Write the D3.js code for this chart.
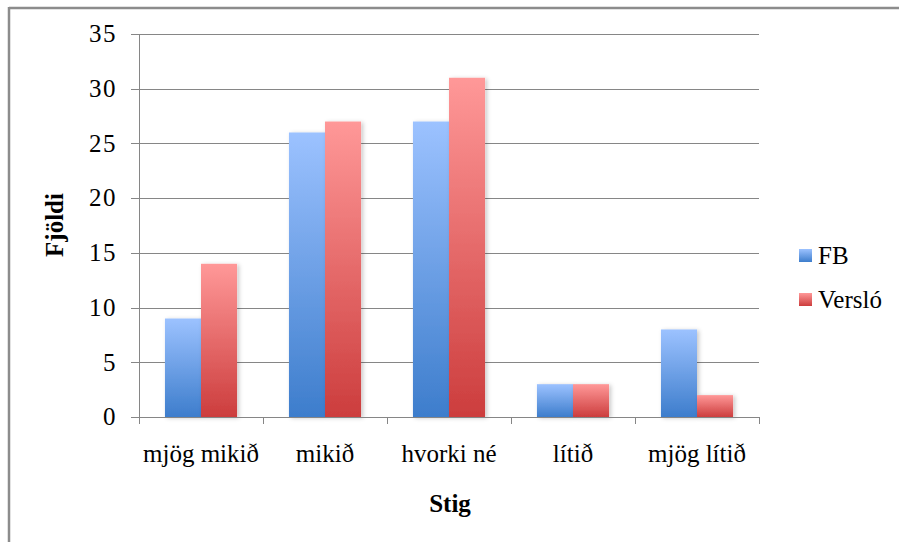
<!DOCTYPE html>
<html><head><meta charset="utf-8">
<script src="https://cdn.jsdelivr.net/npm/d3@7"></script>
<style>body{margin:0;background:#fff}svg{display:block}</style>
</head><body>
<script>
const categories = ["mjög mikið", "mikið", "hvorki né", "lítið", "mjög lítið"];
const seriesNames = ["FB", "Versló"];
const fbValues = [9, 26, 27, 3, 8];
const versloValues = [14, 27, 31, 3, 2];
const yTicks = [0, 5, 10, 15, 20, 25, 30, 35];

const W = 899, H = 542;
const svg = d3.select("body").append("svg").attr("width", W).attr("height", H);
const font = "'Liberation Serif', 'Times New Roman', serif";

const defs = svg.append("defs");
const grads = [["gFB", "#9cc2ff", "#3d7dcc"], ["gV", "#ff9898", "#cc3d3d"]];
grads.forEach(([id, c1, c2]) => {
  const g = defs.append("linearGradient").attr("id", id).attr("x1", 0).attr("y1", 0).attr("x2", 0).attr("y2", 1);
  g.append("stop").attr("offset", "0%").attr("stop-color", c1);
  g.append("stop").attr("offset", "100%").attr("stop-color", c2);
});
const f = defs.append("filter").attr("id", "sh").attr("x", "-20%").attr("y", "-20%").attr("width", "150%").attr("height", "150%");
f.append("feDropShadow").attr("dx", 2).attr("dy", 1).attr("stdDeviation", 2).attr("flood-color", "#000").attr("flood-opacity", 0.22);

// outer border (top and left visible)
svg.append("line").attr("x1", 9).attr("x2", W).attr("y1", 8).attr("y2", 8).attr("stroke", "#8c8c8c").attr("stroke-width", 2.5);
svg.append("line").attr("x1", 9).attr("x2", 9).attr("y1", 7).attr("y2", H).attr("stroke", "#8c8c8c").attr("stroke-width", 2.5);

const x0 = 139, x1 = 759, yTop = 34, yBot = 417;
const x = d3.scaleBand().domain(categories).range([x0, x1]).paddingInner(0).paddingOuter(0);
const y = d3.scaleLinear().domain([0, 35]).range([yBot, yTop]);
const xs = d3.scaleBand().domain(seriesNames).range([0, x.bandwidth()]).paddingInner(0).paddingOuter(0.72);

// gridlines with left tick
const g = svg.append("g");
g.selectAll("line.grid").data(yTicks).join("line")
  .attr("x1", 131).attr("x2", x1).attr("y1", d => Math.round(y(d)) + 0.5).attr("y2", d => Math.round(y(d)) + 0.5)
  .attr("stroke", "#868686").attr("stroke-width", 1);
g.selectAll("text.yt").data(yTicks).join("text")
  .attr("x", 117).attr("y", d => y(d)).attr("dy", "0.33em").attr("text-anchor", "end")
  .attr("font-family", font).attr("font-size", 25).attr("letter-spacing", 1.5).attr("fill", "#000").text(d => d);

// bars
const data = categories.map((c, i) => ({ c, vals: [fbValues[i], versloValues[i]] }));
const groups = svg.append("g").selectAll("g").data(data).join("g").attr("transform", d => `translate(${x(d.c)},0)`);
groups.selectAll("rect").data(d => d.vals.map((v, j) => ({ v, s: seriesNames[j], j }))).join("rect")
  .attr("x", d => xs(d.s)).attr("width", xs.bandwidth())
  .attr("y", d => y(d.v)).attr("height", d => yBot - y(d.v))
  .attr("fill", d => d.j === 0 ? "url(#gFB)" : "url(#gV)")
  .attr("filter", "url(#sh)");

// axes lines
svg.append("line").attr("x1", x0 + 0.5).attr("x2", x0 + 0.5).attr("y1", yTop).attr("y2", yBot + 6).attr("stroke", "#868686");
svg.append("line").attr("x1", x0).attr("x2", x1).attr("y1", yBot + 0.5).attr("y2", yBot + 0.5).attr("stroke", "#868686");
const bounds = categories.map(c => x(c)).concat([x1]);
svg.selectAll("line.xt").data(bounds).join("line")
  .attr("x1", d => Math.round(d) + 0.5).attr("x2", d => Math.round(d) + 0.5).attr("y1", yBot).attr("y2", yBot + 7)
  .attr("stroke", "#868686");

svg.selectAll("text.xl").data(categories).join("text")
  .attr("x", d => x(d) + x.bandwidth() / 2).attr("y", 462).attr("text-anchor", "middle")
  .attr("font-family", font).attr("font-size", 25).attr("fill", "#000").text(d => d);

// axis titles
svg.append("text").attr("x", 450).attr("y", 512).attr("text-anchor", "middle")
  .attr("font-family", font).attr("font-size", 25).attr("font-weight", "bold").text("Stig");
svg.append("text").attr("transform", "translate(63,225) rotate(-90)").attr("text-anchor", "middle")
  .attr("font-family", font).attr("font-size", 25).attr("font-weight", "bold").text("Fjöldi");

// legend
const leg = svg.append("g").selectAll("g").data(seriesNames).join("g")
  .attr("transform", (d, i) => `translate(799,${249 + i * 44})`);
leg.append("rect").attr("width", 13).attr("height", 13).attr("fill", (d, i) => i === 0 ? "url(#gFB)" : "url(#gV)");
leg.append("text").attr("x", 19).attr("y", 15).attr("font-family", font).attr("font-size", 25).text(d => d);
</script>
</body></html>
